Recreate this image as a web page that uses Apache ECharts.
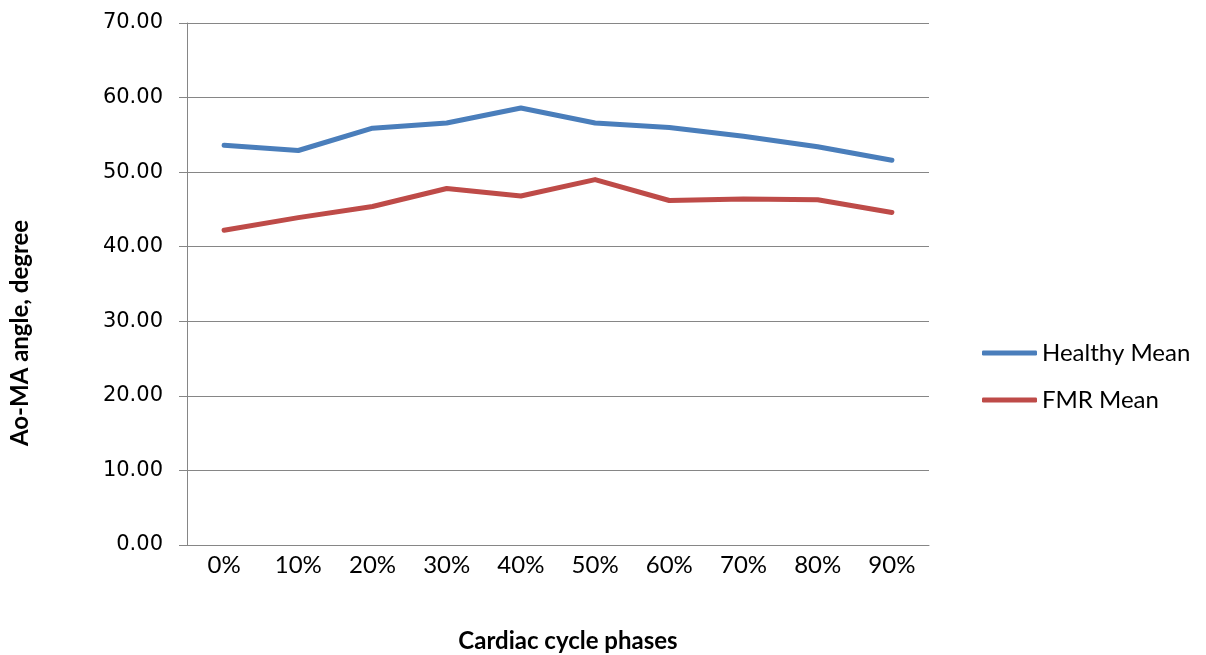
<!DOCTYPE html>
<html>
<head>
<meta charset="utf-8">
<script src="https://cdn.jsdelivr.net/npm/echarts@6/dist/echarts.min.js"></script>
<style>
html,body{margin:0;padding:0;background:#fff;}
#c{width:1206px;height:655px;}
</style>
</head>
<body>
<div id="c"></div>
<script>
const categories = ['0%','10%','20%','30%','40%','50%','60%','70%','80%','90%'];
const healthyMean = [53.6, 52.9, 55.9, 56.6, 58.6, 56.6, 56.0, 54.8, 53.4, 51.6];
const fmrMean = [42.2, 43.9, 45.4, 47.8, 46.8, 49.0, 46.2, 46.4, 46.3, 44.6];
const yTicks = { min: 0, max: 70, interval: 10 };
const xTitle = 'Cardiac cycle phases';
const yTitle = 'Ao-MA angle, degree';

const chart = echarts.init(document.getElementById('c'));
const axisGray = '#868686';
const labelFont = 'Lato, "Open Sans", sans-serif';
chart.setOption({
  animation: false,
  backgroundColor: '#ffffff',
  grid: { left: 187, right: 277, top: 23, bottom: 110, containLabel: false, outerBoundsMode: 'none' },
  xAxis: {
    type: 'category',
    data: categories,
    boundaryGap: true,
    axisLine: { show: true, lineStyle: { color: axisGray, width: 1 } },
    axisTick: { show: false },
    axisLabel: { color: '#000', fontSize: 24, fontFamily: labelFont, margin: 8 },
    splitLine: { show: false },
    name: xTitle,
    nameLocation: 'middle',
    nameGap: 84,
    nameTextStyle: { color: '#000', fontSize: 24, fontWeight: 'bold', fontFamily: labelFont, padding: [0, 0, 0, 20] }
  },
  yAxis: {
    type: 'value',
    min: yTicks.min, max: yTicks.max, interval: yTicks.interval,
    axisLine: { show: true, lineStyle: { color: axisGray, width: 1 } },
    axisTick: { show: true, length: 8, lineStyle: { color: axisGray } },
    axisLabel: { color: '#000', fontSize: 21, fontFamily: 'DejaVu Sans, sans-serif', margin: 24,
      formatter: v => v.toFixed(2) },
    splitLine: { show: true, lineStyle: { color: axisGray, width: 1 } }
  },
  legend: {
    orient: 'vertical',
    left: 977, top: 336,
    icon: 'roundRect',
    itemWidth: 55, itemHeight: 5, itemGap: 23,
    textStyle: { color: '#000', fontSize: 24, fontFamily: labelFont, padding: [0, 0, 0, 0] },
    data: ['Healthy Mean', 'FMR Mean']
  },
  graphic: [{
    type: 'text',
    x: 20, y: 333,
    rotation: Math.PI / 2,
    style: { text: yTitle, fill: '#000', font: 'bold 24px Lato, "Open Sans", sans-serif', align: 'center', verticalAlign: 'middle' }
  }],
  series: [
    { name: 'Healthy Mean', type: 'line', data: healthyMean, symbol: 'none',
      lineStyle: { color: '#4a7ebb', width: 5, cap: 'round', join: 'round' }, itemStyle: { color: '#4a7ebb' } },
    { name: 'FMR Mean', type: 'line', data: fmrMean, symbol: 'none',
      lineStyle: { color: '#be4b48', width: 5, cap: 'round', join: 'round' }, itemStyle: { color: '#be4b48' } }
  ]
});
</script>
</body>
</html>
